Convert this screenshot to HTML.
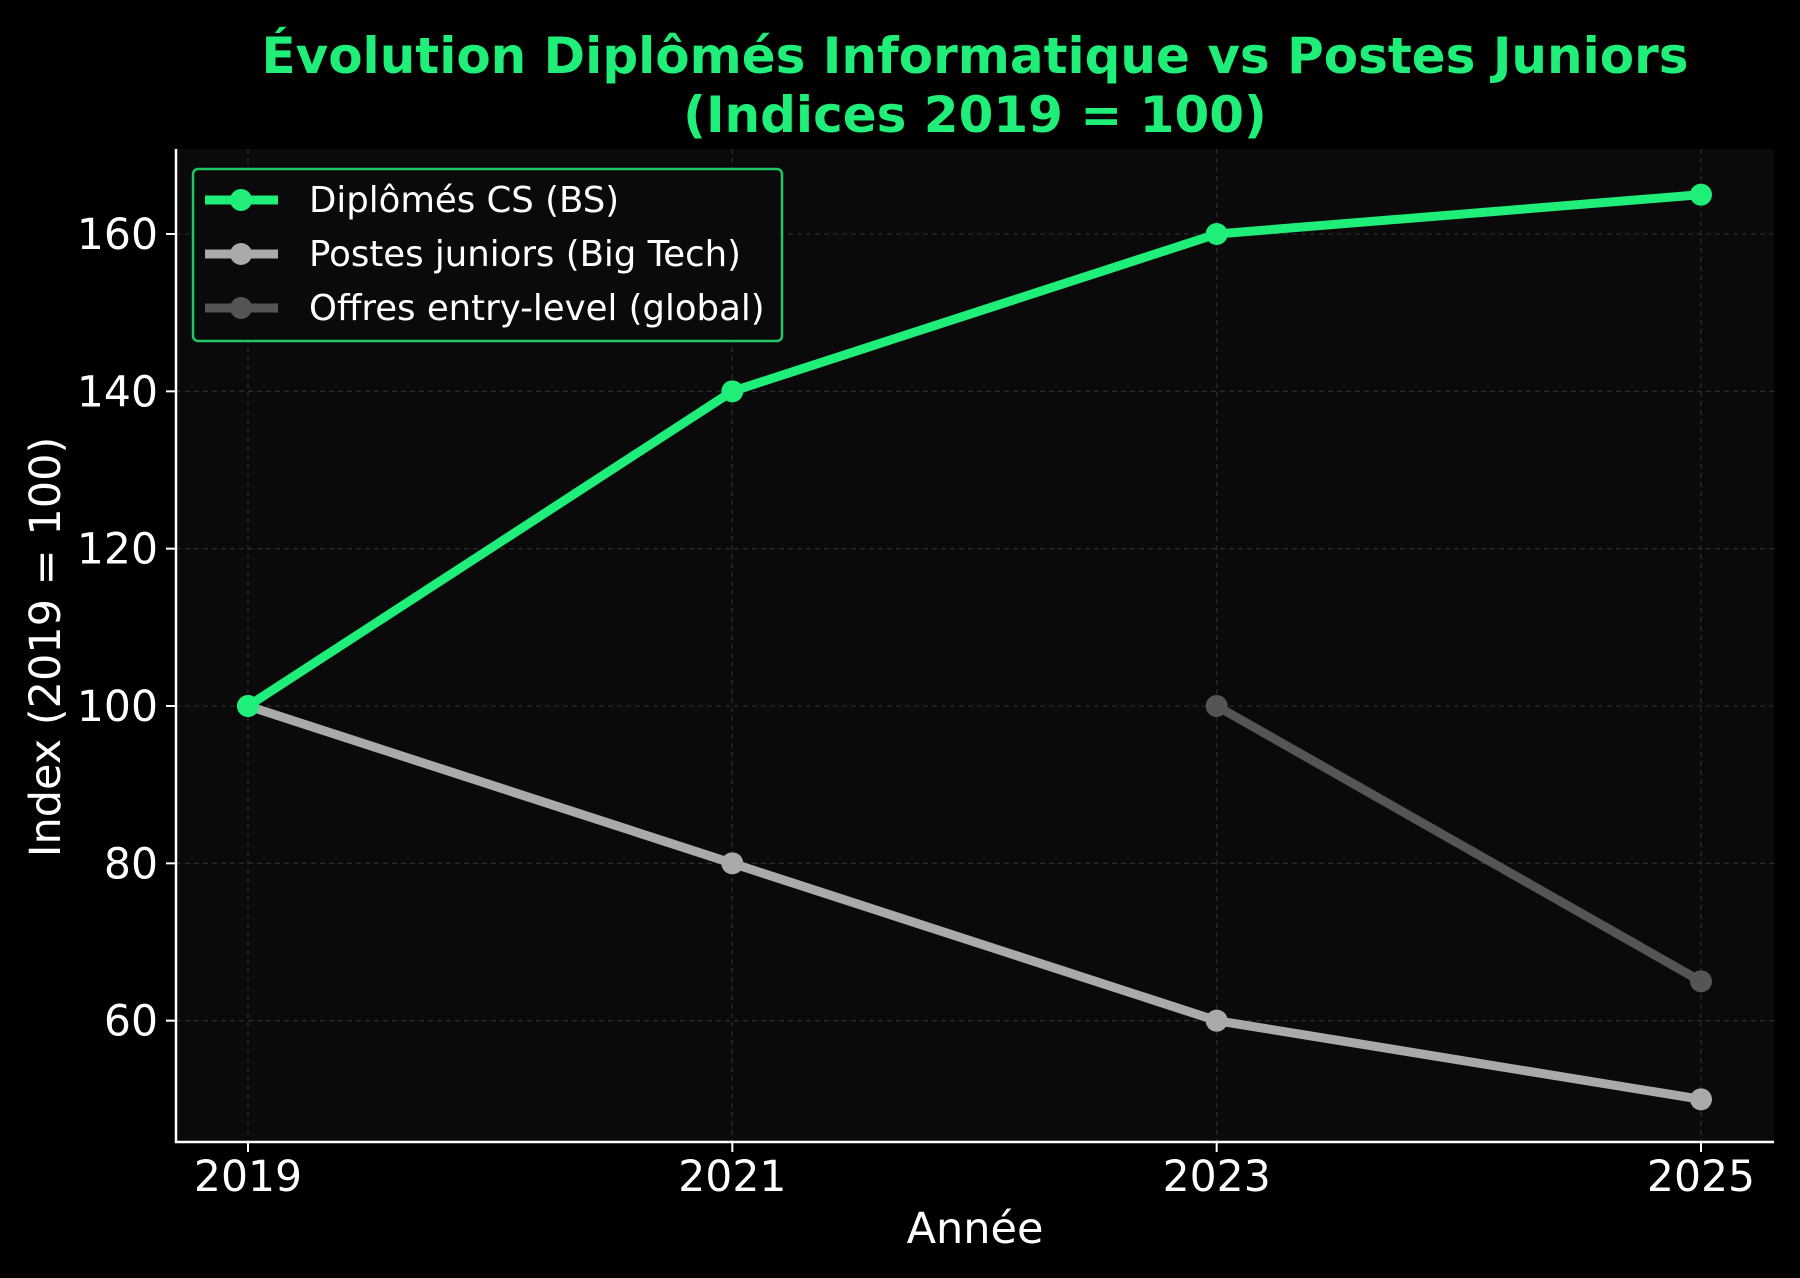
<!DOCTYPE html>
<html><head><meta charset="utf-8">
<style>
html,body{margin:0;padding:0;background:#000;}
svg{display:block;font-family:"DejaVu Sans","Liberation Sans",sans-serif;}
</style></head>
<body>
<svg id="chart" width="1800" height="1278" viewBox="0 0 1800 1278" xmlns="http://www.w3.org/2000/svg">
<rect x="0" y="0" width="1800" height="1278" fill="#000"/>
<text x="975" y="73" text-anchor="middle" fill="#1fef78" font-weight="bold" font-size="50">Évolution Diplômés Informatique vs Postes Juniors</text>
<text x="975" y="132" text-anchor="middle" fill="#1fef78" font-weight="bold" font-size="50">(Indices 2019 = 100)</text>
<rect x="176" y="149" width="1598" height="993" fill="#0a0a0a"/>
<g id="grid"></g>
<g id="series"></g>
<line x1="176" y1="149" x2="176" y2="1143" stroke="#fff" stroke-width="2.5"/>
<line x1="175" y1="1142" x2="1774" y2="1142" stroke="#fff" stroke-width="2.5"/>
<g id="ticks"></g>
<text x="975" y="1243" text-anchor="middle" fill="#fff" font-size="43">Année</text>
<text transform="translate(60,647) rotate(-90)" text-anchor="middle" fill="#fff" font-size="43">Index (2019 = 100)</text>
<g id="legend">
<rect x="193" y="169" width="589" height="172" rx="5" fill="#0a0a0a" stroke="#20c765" stroke-width="2.5"/>
</g>
</svg>
<script>
const years = [2019, 2021, 2023, 2025];
const seriesNames = ["Diplômés CS (BS)", "Postes juniors (Big Tech)", "Offres entry-level (global)"];
const diplomesCS = [100, 140, 160, 165];
const postesJuniors = [100, 80, 60, 50];
const offresEntry = [null, null, 100, 65];
const yTicks = [60, 80, 100, 120, 140, 160];
const xTicks = [2019, 2021, 2023, 2025];

const NS = "http://www.w3.org/2000/svg";
function xScale(v){ return 248 + (v - 2019) * (1701 - 248) / 6; }
function yScale(v){ return 706 - (v - 100) * (706 - 234) / 60; }
function mk(tag, attrs, parent){
  const e = document.createElementNS(NS, tag);
  for (const k in attrs) e.setAttribute(k, attrs[k]);
  parent.appendChild(e);
  return e;
}
const grid = document.getElementById('grid');
const ticks = document.getElementById('ticks');
const seriesG = document.getElementById('series');
const legend = document.getElementById('legend');

yTicks.forEach(t => {
  const y = yScale(t);
  const g = mk('line', {x1:176, x2:1774, y1:y, y2:y, stroke:'#2a2a2a', 'stroke-width':1.3, 'stroke-dasharray':'5,4'}, grid);
  
  
  const tk = mk('line', {x1:176, x2:166, y1:y, y2:y, stroke:'#fff', 'stroke-width':2}, ticks);
  
  
  const tx = mk('text', {x:158, y:y+15, 'text-anchor':'end', fill:'#fff', 'font-size':42.5}, ticks);
  tx.textContent = t;
  
  
});
xTicks.forEach(t => {
  const x = xScale(t);
  const g = mk('line', {x1:x, x2:x, y1:149, y2:1142, stroke:'#2a2a2a', 'stroke-width':1.3, 'stroke-dasharray':'5,4'}, grid);
  
  
  const tk = mk('line', {x1:x, x2:x, y1:1142, y2:1152, stroke:'#fff', 'stroke-width':2}, ticks);
  
  
  const tx = mk('text', {x:x, y:1191, 'text-anchor':'middle', fill:'#fff', 'font-size':42.5}, ticks);
  tx.textContent = t;
  
  
});

const seriesData = [diplomesCS, postesJuniors, offresEntry];
const colors = ['#1fef78', '#aaaaaa', '#555555'];
const slugs = ['diplomes-cs', 'postes-juniors', 'offres-entry-level'];
[2, 1, 0].forEach(i => {
  const vals = seriesData[i];
  const pts = [];
  vals.forEach((v, j) => { if (v !== null) pts.push([xScale(years[j]), yScale(v)]); });
  const pl = mk('polyline', {points: pts.map(p => p.join(',')).join(' '), fill:'none', stroke:colors[i], 'stroke-width':9, 'stroke-linejoin':'round', 'stroke-linecap':'round'}, seriesG);
  
  
  pts.forEach(p => {
    const c = mk('circle', {cx:p[0], cy:p[1], r:11, fill:colors[i]}, seriesG);
    
    
  });
});

seriesNames.forEach((n, i) => {
  const y = 200 + i * 54;
  const l = mk('line', {x1:205, x2:278, y1:y, y2:y, stroke:colors[i], 'stroke-width':9}, legend);
  
  
  const c = mk('circle', {cx:241, cy:y, r:11, fill:colors[i]}, legend);
  
  
  const t = mk('text', {x:309, y:y+12, fill:'#fff', 'font-size':35.5}, legend);
  t.textContent = n;
  
  
});
</script>
</body></html>
